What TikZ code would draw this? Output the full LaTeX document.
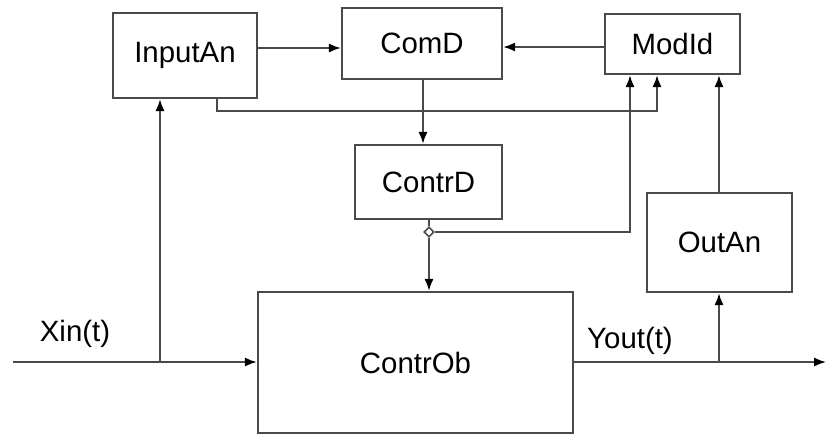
\documentclass[tikz,border=0pt]{standalone}
\usepackage{fontspec}
\setmainfont{Liberation Sans}
\usetikzlibrary{arrows.meta,shapes.geometric}
\definecolor{ln}{HTML}{4a4a4a}
\begin{document}
\begin{tikzpicture}[x=0.5pt,y=-0.5pt,
  blk/.style={draw=ln,line width=1.2pt,fill=white,inner sep=0pt,font=\fontsize{14.7}{17}\selectfont},
  arr/.style={draw=ln,line width=0.9pt,-{Latex[length=6pt,width=4.6pt,color=black]}},
  wire/.style={draw=ln,line width=0.9pt},
  lbl/.style={inner sep=0pt,font=\fontsize{14.7}{17}\selectfont}]
\useasboundingbox (0,0) rectangle (827,436);
\node[blk,minimum width=72pt,minimum height=42.5pt] (InputAn) at (185,55.5) {InputAn};
\node[blk,minimum width=80pt,minimum height=35.5pt] (ComD) at (422,43.5) {ComD};
\node[blk,minimum width=67.5pt,minimum height=30pt] (ModId) at (672.5,44) {ModId};
\node[blk,minimum width=73.5pt,minimum height=37pt] (ContrD) at (428.5,182) {ContrD};
\node[blk,minimum width=157.5pt,minimum height=70.5pt] (ContrOb) at (415.5,362.5) {ContrOb};
\node[blk,minimum width=72.5pt,minimum height=49.5pt] (OutAn) at (719.5,242.5) {OutAn};
\node[lbl] (xinl) at (75,334) {Xin(t)};
\node[lbl] (youtl) at (630,341) {Yout(t)};
\coordinate (xin) at (13,362);
\coordinate (xbr) at (160,362);
\coordinate (ybr) at (719,362);
\coordinate (yend) at (826,362);
\node[draw=ln,fill=white,line width=0.8pt,diamond,inner sep=0pt,minimum size=5pt] (junc) at (429,232) {};
% Xin input
\draw[wire] (xin) -- (xbr);
\draw[arr] (xbr) -- (ContrOb.west |- xbr);
\draw[arr] (xbr) -- (InputAn.south -| xbr);
% InputAn -> ComD
\draw[arr] (InputAn.east |- 0,48) -- (ComD.west |- 0,48);
% ModId -> ComD
\draw[arr] (ModId.west |- 0,47) -- (ComD.east |- 0,47);
% InputAn -> ModId bus
\draw[arr] (InputAn.south -| 217,0) |- (657,111) -- (ModId.south -| 657,0);
% ComD -> ContrD
\draw[arr] (ComD.south -| 423,0) -- (ContrD.north -| 423,0);
% ContrD -> junction -> ContrOb
\draw[wire] (ContrD.south -| junc) -- (junc.north);
\draw[arr] (junc.south) -- (ContrOb.north -| junc);
\draw[arr] (junc.east) -| (ModId.south -| 630,0);
% Output
\draw[arr] (ContrOb.east |- ybr) -- (yend);
\draw[arr] (ybr) -- (OutAn.south -| ybr);
\draw[arr] (OutAn.north -| ybr) -- (ModId.south -| ybr);
\end{tikzpicture}
\end{document}
